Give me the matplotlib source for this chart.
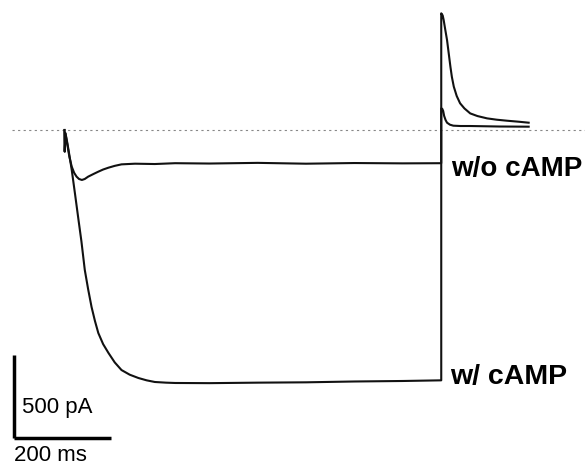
import matplotlib
matplotlib.use("Agg")
import matplotlib.pyplot as plt

# Times in ms from pulse onset, currents in pA
t_pulse_w = [0, 0.5, 2, 6, 10, 15, 22, 29, 35, 42, 49, 56, 63, 70, 80, 91, 104, 118, 135, 153,
             170, 187, 210, 229, 300, 400, 500, 600, 700, 780]
i_pulse_w = [0, -130, -20, -80, -150, -241, -390, -542, -670, -843, -960, -1066, -1150, -1223,
             -1290, -1343, -1400, -1446, -1474, -1494, -1508, -1518, -1522, -1524,
             -1525, -1522, -1520, -1515, -1512, -1508]
t_pulse_wo = [0, 0.5, 2, 6, 10, 15, 20, 25, 30, 36, 42, 49, 60, 70, 80, 91, 104, 118, 146, 187,
              229, 300, 400, 500, 600, 700, 780]
i_pulse_wo = [0, -130, -20, -90, -160, -221, -258, -281, -295, -301, -295, -281, -265, -251,
              -238, -227, -216, -207, -203, -205, -200, -202, -198, -203, -199, -201, -200]

step_end = 780
t_tail_w = [0, 3, 5, 8, 12, 16, 19, 22, 26, 32, 39, 48, 60, 75, 95, 115, 136, 160, 181]
i_tail_w = [703, 690, 663, 610, 542, 450, 381, 320, 261, 205, 161, 130, 100, 84, 70, 62, 56, 50, 44]
t_tail_wo = [0, 2, 4, 6, 9, 12, 18, 25, 40, 60, 120, 181]
i_tail_wo = [130, 128, 115, 85, 60, 44, 32, 26, 24, 24, 21, 20]

labels = ["w/o cAMP", "w/ cAMP"]
scale_i = 500   # pA
scale_t = 200   # ms

px_per_ms = 0.483
px_per_pA = 0.166
x0_px, y0_px = 64.5, 130.0
W, H = 585, 466

fig = plt.figure(figsize=(W / 100, H / 100), dpi=100)
ax = fig.add_axes([0, 0, 1, 1])
ax.set_xlim(-x0_px / px_per_ms, (W - x0_px) / px_per_ms)
ax.set_ylim((y0_px - H) / px_per_pA, y0_px / px_per_pA)
ax.axis("off")

def to_t(px):
    return (px - x0_px) / px_per_ms

def to_i(py):
    return -(py - y0_px) / px_per_pA

# baseline
ax.plot([to_t(12), to_t(W)], [0, 0], color="#888888", lw=0.8, ls=(0, (2, 3)))

tw = t_pulse_w + [step_end + t for t in t_tail_w]
iw = i_pulse_w + i_tail_w
two = t_pulse_wo + [step_end + t for t in t_tail_wo]
iwo = i_pulse_wo + i_tail_wo
ax.plot(two, iwo, color="#111111", lw=1.5)
ax.plot(tw, iw, color="#111111", lw=1.5)

# scale bars
sb_x = to_t(14)
sb_y = to_i(438)
ax.plot([sb_x, sb_x], [sb_y, sb_y + scale_i], color="black", lw=2.5, solid_capstyle="butt")
ax.plot([sb_x, sb_x + scale_t], [sb_y, sb_y], color="black", lw=2.5, solid_capstyle="butt")

font = "Liberation Sans"
ax.text(to_t(22), to_i(413), f"{scale_i} pA", fontsize=16, family=font, va="baseline", ha="left")
ax.text(to_t(14), to_i(461), f"{scale_t} ms", fontsize=16, family=font, va="baseline", ha="left")
ax.text(to_t(451), to_i(176), labels[0], fontsize=20, family=font, weight="bold", va="baseline", ha="left")
ax.text(to_t(450), to_i(384), labels[1], fontsize=20.5, family=font, weight="bold", va="baseline", ha="left")

fig.savefig("out.png", dpi=100)
